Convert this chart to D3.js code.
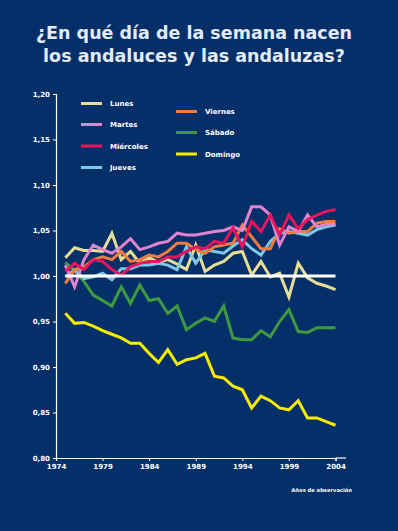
<!DOCTYPE html>
<html>
<head>
<meta charset="utf-8">
<script src="https://cdn.jsdelivr.net/npm/d3@7"></script>
<style>
  html, body { margin: 0; padding: 0; background: #052f69; }
  svg { display: block; }
</style>
</head>
<body>
<script>
const years = d3.range(1975, 2005);
const xTicks = [1974, 1979, 1984, 1989, 1994, 1999, 2004];
const yTicks = [0.80, 0.85, 0.90, 0.95, 1.00, 1.05, 1.10, 1.15, 1.20];

const dayNames = ["Lunes", "Martes", "Miércoles", "Jueves", "Viernes", "Sábado", "Domingo"];
const dayColors = ["#e6dd96", "#e184cf", "#e8145e", "#7cc8e6", "#f07d3f", "#3f9a3f", "#f5ec00"];

const lunes = [1.020, 1.031, 1.028, 1.028, 1.027, 1.047, 1.018, 1.027, 1.014, 1.020, 1.015, 1.018, 1.013, 1.007, 1.034, 1.005, 1.012, 1.016, 1.025, 1.027, 1.001, 1.016, 0.999, 1.003, 0.977, 1.014, 0.998, 0.992, 0.989, 0.985];
const martes = [1.012, 0.988, 1.018, 1.034, 1.029, 1.025, 1.032, 1.041, 1.029, 1.032, 1.036, 1.038, 1.047, 1.045, 1.045, 1.047, 1.049, 1.050, 1.054, 1.050, 1.076, 1.076, 1.067, 1.034, 1.054, 1.049, 1.067, 1.054, 1.057, 1.057];
const miercoles = [1.005, 1.014, 1.007, 1.018, 1.016, 1.007, 1.001, 1.010, 1.014, 1.016, 1.016, 1.021, 1.021, 1.027, 1.032, 1.030, 1.038, 1.036, 1.053, 1.032, 1.060, 1.049, 1.067, 1.045, 1.067, 1.052, 1.062, 1.067, 1.071, 1.073];
const jueves = [0.999, 1.007, 0.997, 0.999, 1.003, 0.996, 1.008, 1.008, 1.012, 1.012, 1.014, 1.012, 1.007, 1.032, 1.014, 1.029, 1.027, 1.025, 1.033, 1.040, 1.030, 1.023, 1.038, 1.047, 1.049, 1.047, 1.045, 1.051, 1.054, 1.056];
const viernes = [0.992, 1.007, 1.010, 1.018, 1.021, 1.018, 1.027, 1.016, 1.018, 1.023, 1.021, 1.027, 1.036, 1.036, 1.029, 1.025, 1.032, 1.034, 1.036, 1.056, 1.043, 1.030, 1.030, 1.052, 1.047, 1.049, 1.049, 1.058, 1.060, 1.060];
const sabado = [1.015, 1.006, 0.994, 0.979, 0.973, 0.967, 0.988, 0.970, 0.990, 0.973, 0.975, 0.959, 0.967, 0.941, 0.948, 0.954, 0.950, 0.967, 0.932, 0.930, 0.930, 0.940, 0.933, 0.950, 0.963, 0.939, 0.938, 0.943, 0.943, 0.943];
const domingo = [0.959, 0.948, 0.949, 0.945, 0.940, 0.936, 0.932, 0.926, 0.926, 0.915, 0.905, 0.919, 0.903, 0.908, 0.910, 0.915, 0.890, 0.888, 0.879, 0.875, 0.855, 0.868, 0.863, 0.855, 0.853, 0.863, 0.844, 0.844, 0.840, 0.836];
const reference = years.map(() => 1.00);

const seriesValues = [lunes, martes, miercoles, jueves, viernes, sabado, domingo];

const W = 398, H = 531;
const svg = d3.select("body").append("svg").attr("width", W).attr("height", H);
svg.append("rect").attr("width", W).attr("height", H).attr("fill", "#052f69");

const x = d3.scaleLinear().domain([1974, 2004]).range([56, 335.5]);
const y = d3.scaleLinear().domain([0.80, 1.20]).range([458, 94]);

// Title
const title = svg.append("text")
  .attr("x", 194).attr("text-anchor", "middle")
  .attr("fill", "#e2ebf7")
  .style("font-family", "'DejaVu Sans', Verdana, sans-serif")
  .style("font-weight", "bold")
  .style("font-size", "17.5px");
title.append("tspan").attr("x", 194).attr("y", 39).text("¿En qué día de la semana nacen");
title.append("tspan").attr("x", 194).attr("y", 62).text("los andaluces y las andaluzas?");

// Axes
const fmt = d => d3.format(".2f")(d).replace(".", ",");
const yAxis = svg.append("g").attr("transform", "translate(56,0)")
  .call(d3.axisLeft(y).tickValues(yTicks).tickFormat(fmt).tickSize(3).tickPadding(3));
const xAxis = svg.append("g").attr("transform", "translate(0,458)")
  .call(d3.axisBottom(x).tickValues(xTicks).tickFormat(d3.format("d")).tickSize(3).tickPadding(3));
[yAxis, xAxis].forEach(g => {
  g.select(".domain").attr("stroke", "#ffffff").attr("stroke-width", 1.2);
  g.selectAll(".tick line").attr("stroke", "#ffffff").attr("stroke-width", 1);
  g.selectAll(".tick text").attr("fill", "#ffffff")
    .style("font-family", "'DejaVu Sans', sans-serif")
    .style("font-weight", "bold").style("font-size", "7px");
});
// extend x axis line to the right
svg.append("line").attr("x1", x(2004)).attr("x2", 346).attr("y1", 458).attr("y2", 458)
  .attr("stroke", "#ffffff").attr("stroke-width", 1.2);

// Lines
const line = d3.line().x((d, i) => x(years[i])).y(d => y(d));
const drawOrder = [6, 5, 0, 3, 4, 1, 2];
drawOrder.forEach(k => {
  svg.append("path").datum(seriesValues[k])
    .attr("d", line).attr("fill", "none")
    .attr("stroke", dayColors[k]).attr("stroke-width", 3)
    .attr("stroke-linejoin", "miter");
});
svg.append("path").datum(reference).attr("d", line).attr("fill", "none")
  .attr("stroke", "#ffffff").attr("stroke-width", 3);

// Legend
const legendPos = [
  {lx: 81, ly: 103.5}, {lx: 81, ly: 124.5}, {lx: 81, ly: 146}, {lx: 81, ly: 167.5},
  {lx: 176, ly: 111.5}, {lx: 176, ly: 132.5}, {lx: 176, ly: 154}
];
const legend = svg.append("g");
dayNames.forEach((name, k) => {
  const p = legendPos[k];
  legend.append("line").attr("x1", p.lx).attr("x2", p.lx + 21)
    .attr("y1", p.ly).attr("y2", p.ly)
    .attr("stroke", dayColors[k]).attr("stroke-width", 3);
  legend.append("text").attr("x", p.lx + 29).attr("y", p.ly + 2.5)
    .attr("fill", "#ffffff")
    .style("font-family", "'DejaVu Sans', sans-serif")
    .style("font-weight", "bold").style("font-size", "7px")
    .text(name);
});

// X axis caption
svg.append("text").attr("x", 352).attr("y", 492).attr("text-anchor", "end")
  .attr("fill", "#ffffff")
  .style("font-family", "'DejaVu Sans', sans-serif")
  .style("font-weight", "bold").style("font-size", "5.2px")
  .text("Años de observación");
</script>
</body>
</html>
